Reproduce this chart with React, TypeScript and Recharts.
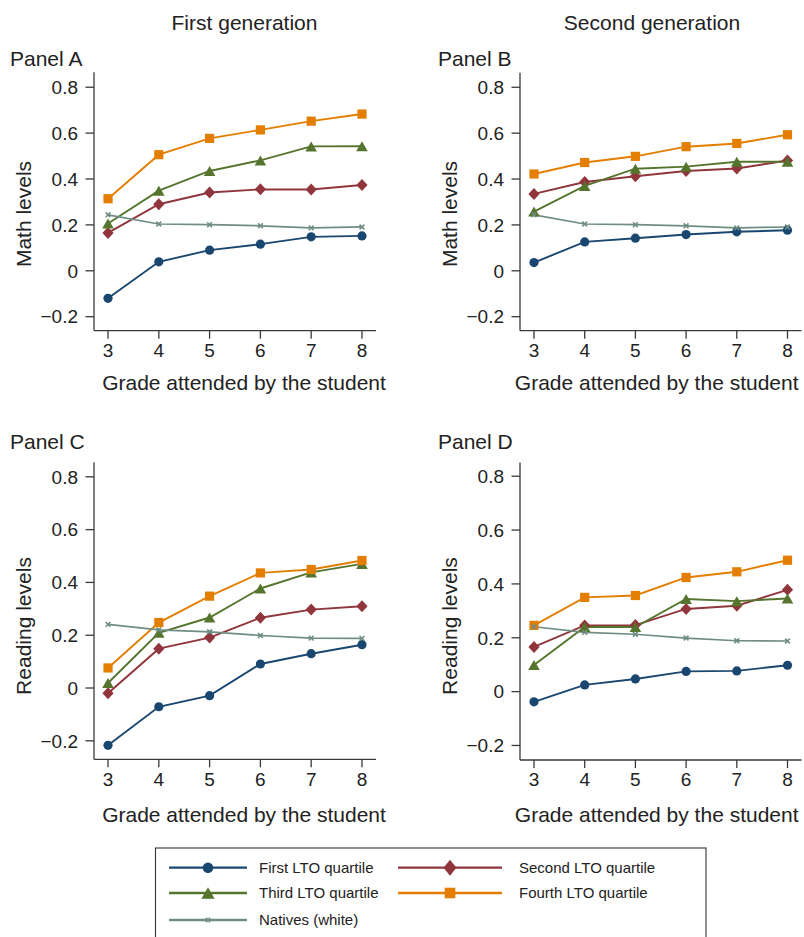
import React from 'react';
import { LineChart, Line, XAxis, YAxis } from 'recharts';

// ---------- data ----------
const grades = [3, 4, 5, 6, 7, 8];
const xTicks = [3, 4, 5, 6, 7, 8];
const yTicks = [-0.2, 0, 0.2, 0.4, 0.6, 0.8];
const seriesNames = ['First LTO quartile', 'Second LTO quartile', 'Third LTO quartile', 'Fourth LTO quartile', 'Natives (white)'];
const columnTitles = ['First generation', 'Second generation'];
const panelTitles = ['Panel A', 'Panel B', 'Panel C', 'Panel D'];
const yTitles = ['Math levels', 'Reading levels'];
const xTitle = 'Grade attended by the student';

// Panel A: math, first generation
const mathFirstQ1 = [-0.12, 0.039, 0.09, 0.116, 0.148, 0.152];
const mathFirstQ2 = [0.165, 0.29, 0.341, 0.355, 0.354, 0.374];
const mathFirstQ3 = [0.206, 0.349, 0.435, 0.481, 0.542, 0.543];
const mathFirstQ4 = [0.314, 0.506, 0.577, 0.614, 0.652, 0.683];
const mathNatives = [0.244, 0.204, 0.201, 0.196, 0.187, 0.191];
// Panel B: math, second generation
const mathSecondQ1 = [0.036, 0.126, 0.142, 0.158, 0.17, 0.177];
const mathSecondQ2 = [0.335, 0.387, 0.412, 0.435, 0.446, 0.481];
const mathSecondQ3 = [0.258, 0.37, 0.445, 0.454, 0.475, 0.475];
const mathSecondQ4 = [0.422, 0.472, 0.499, 0.541, 0.555, 0.593];
// Panel C: reading, first generation
const readFirstQ1 = [-0.217, -0.071, -0.029, 0.091, 0.13, 0.164];
const readFirstQ2 = [-0.02, 0.149, 0.191, 0.266, 0.297, 0.31];
const readFirstQ3 = [0.019, 0.209, 0.267, 0.377, 0.438, 0.47];
const readFirstQ4 = [0.076, 0.248, 0.348, 0.436, 0.449, 0.483];
const readNatives = [0.241, 0.22, 0.213, 0.199, 0.189, 0.188];
// Panel D: reading, second generation
const readSecondQ1 = [-0.038, 0.025, 0.047, 0.075, 0.077, 0.098];
const readSecondQ2 = [0.166, 0.246, 0.247, 0.307, 0.319, 0.378];
const readSecondQ3 = [0.099, 0.24, 0.24, 0.344, 0.336, 0.346];
const readSecondQ4 = [0.246, 0.35, 0.357, 0.424, 0.445, 0.488];

// ---------- style ----------
const FONT = '"Liberation Sans", Arial, Helvetica, sans-serif';
const TEXT = '#222';
const AXIS = '#3a3a3a';
const COLORS = ['#1a476f', '#90353b', '#55752f', '#e37e00', '#6e8e84'];
const SHAPES = ['circle', 'diamond', 'triangle', 'square', 'x'];
const KEYS = ['q1', 'q2', 'q3', 'q4', 'nat'];

function buildRows(q1: number[], q2: number[], q3: number[], q4: number[], nat: number[]) {
  return grades.map((g, i) => ({ grade: g, q1: q1[i], q2: q2[i], q3: q3[i], q4: q4[i], nat: nat[i] }));
}

const dataA = buildRows(mathFirstQ1, mathFirstQ2, mathFirstQ3, mathFirstQ4, mathNatives);
const dataB = buildRows(mathSecondQ1, mathSecondQ2, mathSecondQ3, mathSecondQ4, mathNatives);
const dataC = buildRows(readFirstQ1, readFirstQ2, readFirstQ3, readFirstQ4, readNatives);
const dataD = buildRows(readSecondQ1, readSecondQ2, readSecondQ3, readSecondQ4, readNatives);

function Marker({ shape, cx, cy, color, s = 1 }: { shape: string; cx: number; cy: number; color: string; s?: number }) {
  if (cx == null || cy == null || isNaN(cx) || isNaN(cy)) return null;
  if (shape === 'circle') return <circle cx={cx} cy={cy} r={4.6 * s} fill={color} />;
  if (shape === 'square') {
    const h = 4.6 * s;
    return <rect x={cx - h} y={cy - h} width={2 * h} height={2 * h} fill={color} />;
  }
  if (shape === 'diamond') {
    const w = 5.6 * s, h = 6 * s * (s > 1 ? 1.15 : 1);
    return <polygon points={`${cx},${cy - h} ${cx + w},${cy} ${cx},${cy + h} ${cx - w},${cy}`} fill={color} />;
  }
  if (shape === 'triangle') {
    const w = 5.8 * s, h = 5 * s;
    return <polygon points={`${cx},${cy - h} ${cx + w},${cy + h} ${cx - w},${cy + h}`} fill={color} />;
  }
  const a = 2.4 * s;
  return (
    <g stroke={color} strokeWidth={1.6}>
      <line x1={cx - a} y1={cy - a} x2={cx + a} y2={cy + a} />
      <line x1={cx - a} y1={cy + a} x2={cx + a} y2={cy - a} />
    </g>
  );
}

const fmt = (v: number) => (v < 0 ? '\u2212' + Math.abs(v) : String(v));

type PlotBox = { left: number; right: number; top: number; bottom: number };

function Panel({ data, plot, domain, id }: { data: any[]; plot: PlotBox; domain: [number, number]; id: string }) {
  const yW = 60;
  const xH = 30;
  const W = plot.right + 3;
  const H = plot.bottom + 45;
  const margin = { top: plot.top, left: plot.left - yW, right: W - plot.right, bottom: H - plot.bottom - xH };
  const pxPerUnit = (plot.right - plot.left) / 5.552;
  const pad = (plot.right - plot.left - 5 * pxPerUnit) / 2 / pxPerUnit;
  return (
    <div style={{ position: 'absolute', left: 0, top: 0 }}>
      <LineChart width={W} height={H} data={data} margin={margin}>
        <XAxis
          type="number"
          dataKey="grade"
          domain={[3 - pad, 8 + pad]}
          ticks={xTicks}
          interval={0}
          allowDataOverflow
          height={xH}
          tickSize={8}
          tickMargin={5}
          tick={{ fontSize: 19, fill: TEXT, fontFamily: FONT }}
          axisLine={{ stroke: AXIS, strokeWidth: 1.3 }}
          tickLine={{ stroke: AXIS, strokeWidth: 1.3 }}
        />
        <YAxis
          type="number"
          domain={domain}
          ticks={yTicks}
          interval={0}
          allowDataOverflow
          width={yW}
          tickSize={8.5}
          tickMargin={7.5}
          tickFormatter={fmt}
          tick={{ fontSize: 19, fill: TEXT, fontFamily: FONT }}
          axisLine={{ stroke: AXIS, strokeWidth: 1.3 }}
          tickLine={{ stroke: AXIS, strokeWidth: 1.3 }}
        />
        {KEYS.map((k, si) => (
          <Line
            key={k}
            type="linear"
            dataKey={k}
            stroke={COLORS[si]}
            strokeWidth={si === 4 ? 1.7 : 1.9}
            isAnimationActive={false}
            activeDot={false}
            dot={(p: any) => (
              <Marker key={`${id}-${k}-${p.index}`} shape={SHAPES[si]} cx={p.cx} cy={p.cy} color={COLORS[si]} />
            )}
          />
        ))}
      </LineChart>
    </div>
  );
}

function Overlay() {
  const legendRows = [867.7, 893, 920];
  const legendCols = [
    { x1: 169, x2: 247, mx: 208, tx: 259 },
    { x1: 398, x2: 502, mx: 450, tx: 519 },
  ];
  const T = { fontFamily: FONT, fill: TEXT };
  return (
    <svg width={804} height={937} style={{ position: 'absolute', left: 0, top: 0 }}>
      <text x={244.5} y={29.5} textAnchor="middle" fontSize={21} {...T}>{columnTitles[0]}</text>
      <text x={652} y={29.5} textAnchor="middle" fontSize={21} {...T}>{columnTitles[1]}</text>

      <text x={10} y={65.5} fontSize={21} {...T}>{panelTitles[0]}</text>
      <text x={438} y={65.5} fontSize={21} {...T}>{panelTitles[1]}</text>
      <text x={10} y={448.5} fontSize={21} {...T}>{panelTitles[2]}</text>
      <text x={438} y={448.5} fontSize={21} {...T}>{panelTitles[3]}</text>

      <text x={30.5} y={214} transform="rotate(-90 30.5 214)" textAnchor="middle" fontSize={21} {...T}>{yTitles[0]}</text>
      <text x={457} y={214} transform="rotate(-90 457 214)" textAnchor="middle" fontSize={21} {...T}>{yTitles[0]}</text>
      <text x={30.5} y={626} transform="rotate(-90 30.5 626)" textAnchor="middle" fontSize={21} {...T}>{yTitles[1]}</text>
      <text x={457} y={626} transform="rotate(-90 457 626)" textAnchor="middle" fontSize={21} {...T}>{yTitles[1]}</text>

      <text x={244} y={390} textAnchor="middle" fontSize={21} {...T}>{xTitle}</text>
      <text x={656.7} y={390} textAnchor="middle" fontSize={21} {...T}>{xTitle}</text>
      <text x={244} y={821.5} textAnchor="middle" fontSize={21} {...T}>{xTitle}</text>
      <text x={656.7} y={821.5} textAnchor="middle" fontSize={21} {...T}>{xTitle}</text>

      <rect x={155.5} y={848} width={550.5} height={100} fill="none" stroke="#333" strokeWidth={1.1} />
      {seriesNames.map((name, i) => {
        const row = Math.floor(i / 2);
        const col = legendCols[i % 2];
        const y = legendRows[row];
        return (
          <g key={name}>
            <line x1={col.x1} y1={y} x2={col.x2} y2={y} stroke={COLORS[i]} strokeWidth={2.3} />
            <Marker shape={SHAPES[i]} cx={col.mx} cy={y} color={COLORS[i]} s={i === 4 ? 0.9 : 1.15} />
            <text x={col.tx} y={y + 5.4} fontSize={15} {...T}>{name}</text>
          </g>
        );
      })}
    </svg>
  );
}

export default function App() {
  return (
    <div style={{ position: 'absolute', left: 0, top: 0, width: 804, height: 937, background: '#fff', overflow: 'hidden' }}>
      <Panel id="A" data={dataA} plot={{ left: 94, right: 376, top: 72.3, bottom: 330.7 }} domain={[-0.261, 0.865]} />
      <Panel id="B" data={dataB} plot={{ left: 520, right: 801.5, top: 72.8, bottom: 330.7 }} domain={[-0.261, 0.863]} />
      <Panel id="C" data={dataC} plot={{ left: 94, right: 376, top: 462.3, bottom: 759.3 }} domain={[-0.27, 0.855]} />
      <Panel id="D" data={dataD} plot={{ left: 520, right: 801.5, top: 462.5, bottom: 760 }} domain={[-0.254, 0.851]} />
      <Overlay />
    </div>
  );
}
